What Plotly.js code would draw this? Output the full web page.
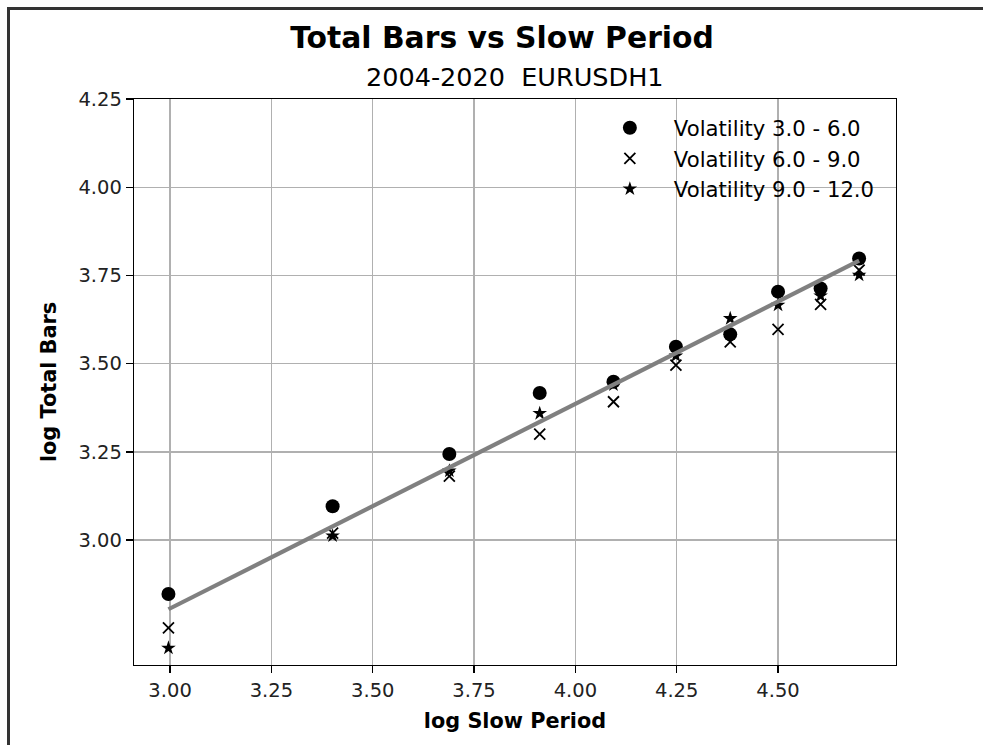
<!DOCTYPE html>
<html>
<head>
<meta charset="utf-8">
<script src="https://cdn.plot.ly/plotly-3.0.1.min.js"></script>
<style>
  html, body { margin: 0; padding: 0; background: #fff; }
  #wrap { position: relative; width: 983px; height: 745px; overflow: hidden; }
  #chart { position: absolute; left: 0; top: 0; width: 983px; height: 745px; }
  #frame { position: absolute; left: 7px; top: 7px; width: 1000px; height: 800px;
           border-left: 3px solid #333; border-top: 3px solid #333; pointer-events: none; }
</style>
</head>
<body>
<div id="wrap">
  <div id="chart"></div>
  <div id="frame"></div>
</div>
<script>
// log of slow period: ln(20), ln(30), ... ln(110)
const logSlowPeriod = [2.996, 3.401, 3.689, 3.912, 4.094, 4.248, 4.382, 4.500, 4.605, 4.700];
const vol3to6  = [2.847, 3.096, 3.244, 3.417, 3.449, 3.548, 3.583, 3.704, 3.713, 3.798];
const vol6to9  = [2.751, 3.020, 3.181, 3.300, 3.392, 3.496, 3.562, 3.597, 3.668, 3.765];
const vol9to12 = [2.694, 3.012, 3.196, 3.359, 3.440, 3.522, 3.628, 3.666, 3.692, 3.751];
const fitX = [2.996, 4.700];
const fitY = [2.804, 3.792];
const seriesNames = ['Volatility 3.0 - 6.0', 'Volatility 6.0 - 9.0', 'Volatility 9.0 - 12.0'];
const xTickVals = [3.00, 3.25, 3.50, 3.75, 4.00, 4.25, 4.50];
const yTickVals = [3.00, 3.25, 3.50, 3.75, 4.00, 4.25];
const titleText = 'Total Bars vs Slow Period';
const subtitleText = '2004-2020  EURUSDH1';
const xTitle = 'log Slow Period';
const yTitle = 'log Total Bars';

const FONT = 'DejaVu Sans, Verdana, sans-serif';

const traces = [
  { x: logSlowPeriod, y: vol3to6, type: 'scatter', mode: 'markers', name: seriesNames[0],
    legendgroup: 'a',
    marker: { symbol: 'circle', size: 14, color: '#000' } },
  { x: logSlowPeriod, y: vol6to9, type: 'scatter', mode: 'markers', name: seriesNames[1],
    legendgroup: 'b',
    marker: { symbol: 'x-thin-open', size: 11, color: '#000', line: { color: '#000', width: 1.8 } } },
  { x: logSlowPeriod, y: vol9to12, type: 'scatter', mode: 'markers', name: seriesNames[2],
    legendgroup: 'c',
    marker: { symbol: 'star', size: 11, color: '#000' } },
  { x: fitX, y: fitY, type: 'scatter', mode: 'lines', showlegend: false, hoverinfo: 'skip',
    line: { color: '#808080', width: 4.2 } }
];

const axisCommon = {
  showline: true, linecolor: '#000', linewidth: 1.3, mirror: true,
  ticks: 'outside', ticklen: 7, tickwidth: 1.3, tickcolor: '#000',
  showgrid: true, gridcolor: '#b0b0b0', gridwidth: 1.3,
  zeroline: false,
  tickfont: { family: FONT, size: 19.5, color: '#222' }
};

const layout = {
  width: 983, height: 745,
  paper_bgcolor: '#fff', plot_bgcolor: '#fff',
  margin: { l: 134, r: 87, t: 99, b: 80 },
  font: { family: FONT, color: '#000' },
  title: {
    text: '<b>' + titleText + '</b>',
    font: { family: FONT, size: 29.8, color: '#000' },
    x: 502 / 983, xanchor: 'center', xref: 'container',
    y: 1 - 38 / 745, yanchor: 'middle', yref: 'container'
  },
  annotations: [{
    text: subtitleText, showarrow: false,
    xref: 'paper', yref: 'paper', x: 0.5, xanchor: 'center',
    y: 1 + (99 - 77) / 566, yanchor: 'middle',
    font: { family: FONT, size: 25.5, color: '#000' }
  }],
  xaxis: Object.assign({}, axisCommon, {
    range: [2.911, 4.791],
    tickvals: xTickVals,
    ticktext: xTickVals.map(v => v.toFixed(2)),
    title: { text: '<b>' + xTitle + '</b>', font: { family: FONT, size: 20.8, color: '#000' }, standoff: 12 }
  }),
  yaxis: Object.assign({}, axisCommon, {
    range: [2.646, 4.250],
    tickvals: yTickVals,
    ticktext: yTickVals.map(v => v.toFixed(2)),
    title: { text: '<b>' + yTitle + '</b>', font: { family: FONT, size: 20.8, color: '#000' }, standoff: 16 }
  }),
  showlegend: true,
  legend: {
    x: 0.593, xanchor: 'left', y: 0.985, yanchor: 'top',
    bgcolor: 'rgba(0,0,0,0)', borderwidth: 0,
    traceorder: 'grouped', tracegroupgap: 0,
    itemwidth: 78,
    font: { family: FONT, size: 21.2, color: '#000' }
  }
};

Plotly.newPlot('chart', traces, layout, { displayModeBar: false, staticPlot: true });
</script>
</body>
</html>
